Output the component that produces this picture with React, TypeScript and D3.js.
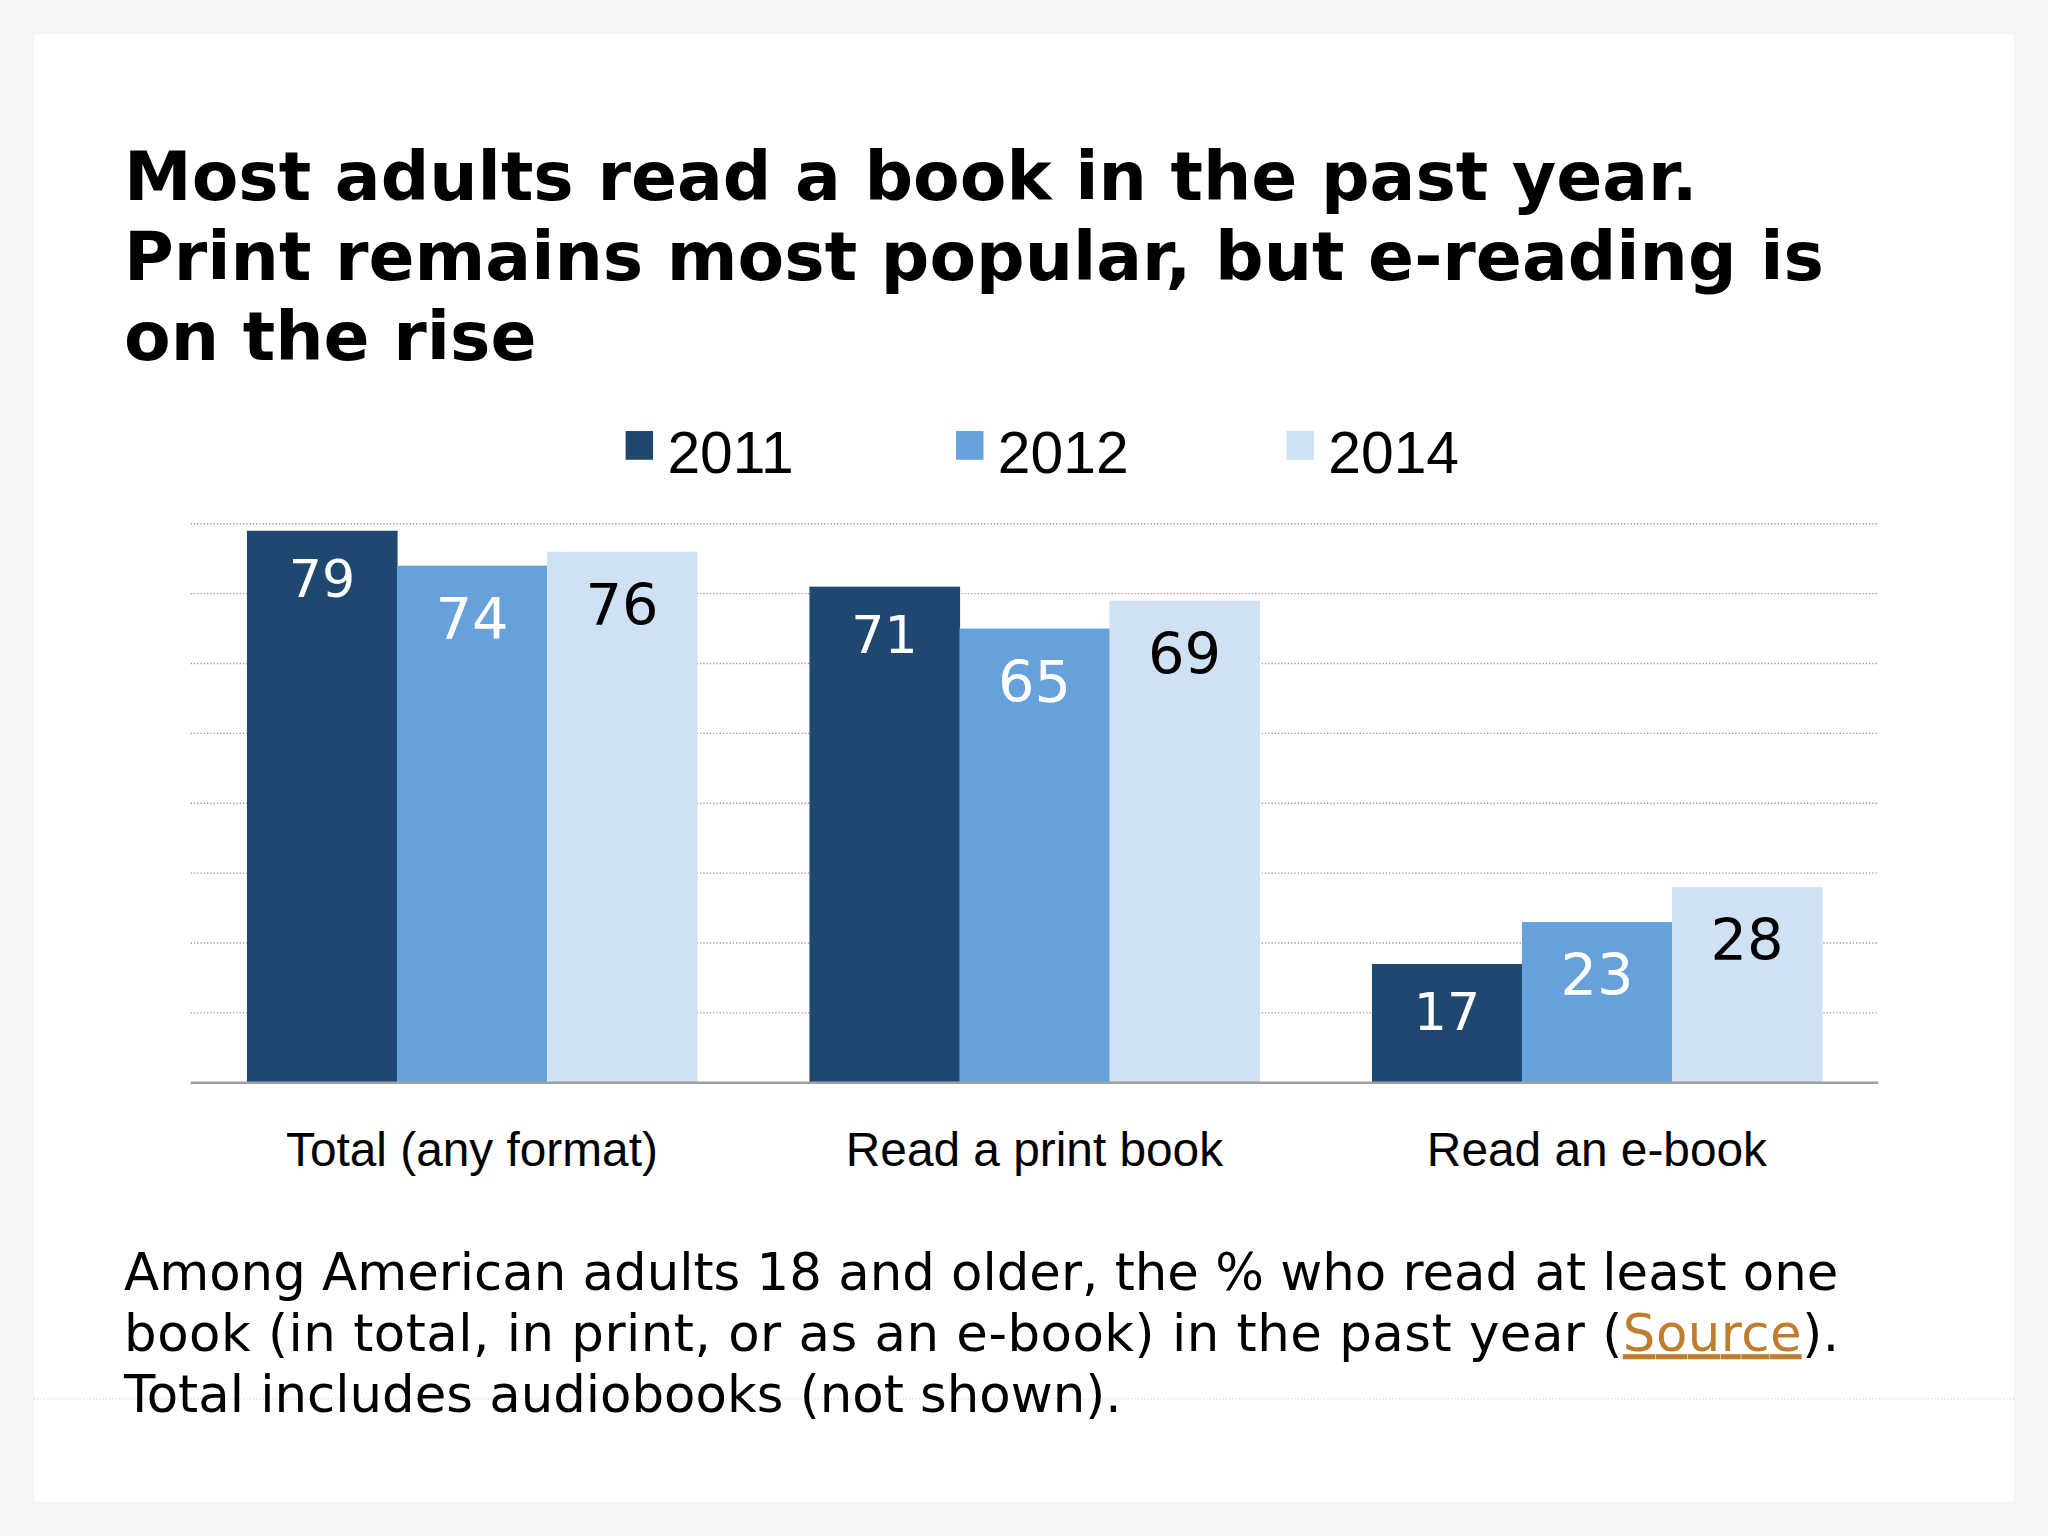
import * as d3 from 'd3';

// data
const categories = ['Total (any format)', 'Read a print book', 'Read an e-book'];
const years = ['2011', '2012', '2014'];
const values2011 = [79, 71, 17];
const values2012 = [74, 65, 23];
const values2014 = [76, 69, 28];
const gridTicks = [10, 20, 30, 40, 50, 60, 70, 80];

const titleLines = [
	'Most adults read a book in the past year.',
	'Print remains most popular, but e-reading is',
	'on the rise',
];

const colors = ['#1f4870', '#66a1db', '#cfe1f2'];
const labelColors = ['#ffffff', '#ffffff', '#000000'];

// drawing space is the reference at 1568x1176, scaled up to 2048x1536
const W = 1568;
const H = 1176;

const verdana = "'DejaVu Sans', Verdana, sans-serif";
const arial = "'Liberation Sans', Arial, sans-serif";

export default function App() {
	const series = [values2011, values2012, values2014];

	const x0 = d3.scaleBand<string>().domain(categories).range([146, 1438]).paddingInner(0.2).paddingOuter(0.1);
	const x1 = d3.scaleBand<string>().domain(years).range([0, x0.bandwidth()]).padding(0);
	const y = d3.scaleLinear().domain([0, 80]).range([829, 401]);

	const legendX = d3.scalePoint<string>().domain(years).range([479, 985]);

	return (
		<svg
			width={2048}
			height={1536}
			viewBox={`0 0 ${W} ${H}`}
			style={{ position: 'absolute', left: 0, top: 0 }}
		>
			<rect x={0} y={0} width={W} height={H} fill="#f5f5f6" />
			<rect x={26} y={26} width={1516} height={1124} fill="#ffffff" />

			{/* title */}
			<text fontFamily={verdana} fontWeight="bold" fontSize={52} fill="#000">
				{titleLines.map((t, i) => (
					<tspan key={t} x={95} y={153 + i * 61.5}>
						{t}
					</tspan>
				))}
			</text>

			{/* legend */}
			{years.map((yr, i) => (
				<g key={yr} transform={`translate(${legendX(yr)},0)`}>
					<rect x={0} y={330} width={21} height={22} fill={colors[i]} />
					<text x={32} y={362} fontFamily={arial} fontSize={45} fill="#000">
						{yr}
					</text>
				</g>
			))}

			{/* grid */}
			{gridTicks.map((t) => (
				<line
					key={t}
					x1={146}
					x2={1438}
					y1={y(t)}
					y2={y(t)}
					stroke="#9a9a9a"
					strokeWidth={1}
					strokeDasharray="1 1.5"
				/>
			))}

			{/* bars */}
			{categories.map((c, ci) => (
				<g key={c} transform={`translate(${x0(c)},0)`}>
					{years.map((yr, si) => {
						const v = series[si][ci];
						const fs = si === 0 ? 40 : 44;
						return (
							<g key={yr}>
								<rect
									x={x1(yr)}
									y={y(v)}
									width={x1.bandwidth() + 0.5}
									height={y(0) - y(v)}
									fill={colors[si]}
								/>
								<text
									x={(x1(yr) as number) + x1.bandwidth() / 2}
									y={y(v) + fs * 1.27}
									textAnchor="middle"
									fontFamily={verdana}
									fontSize={fs}
									fill={labelColors[si]}
								>
									{v}
								</text>
							</g>
						);
					})}
					<text
						x={x0.bandwidth() / 2}
						y={893}
						textAnchor="middle"
						fontFamily={arial}
						fontSize={36.6}
						fill="#000"
					>
						{c}
					</text>
				</g>
			))}

			{/* axis baseline */}
			<line x1={146} x2={1438} y1={y(0)} y2={y(0)} stroke="#a0a0a0" strokeWidth={2} />

			{/* faint rule behind the note */}
			<line x1={26} x2={1542} y1={1071} y2={1071} stroke="#d8d8d8" strokeWidth={1} strokeDasharray="1 1.5" />

			{/* note */}
			<text fontFamily={verdana} fontSize={39.3} fill="#000">
				<tspan x={95} y={988}>
					Among American adults 18 and older, the % who read at least one
				</tspan>
			</text>
			<text fontFamily={verdana} fontSize={39.3} fill="#000" textLength={1313} lengthAdjust="spacing" x={95} y={1034.5}>
				book (in total, in print, or as an e-book) in the past year (
				<tspan fill="#bf7d2e" textDecoration="underline">
					Source
				</tspan>
				).
			</text>
			<text fontFamily={verdana} fontSize={39.3} fill="#000">
				<tspan x={95} y={1081}>
					Total includes audiobooks (not shown).
				</tspan>
			</text>
		</svg>
	);
}
